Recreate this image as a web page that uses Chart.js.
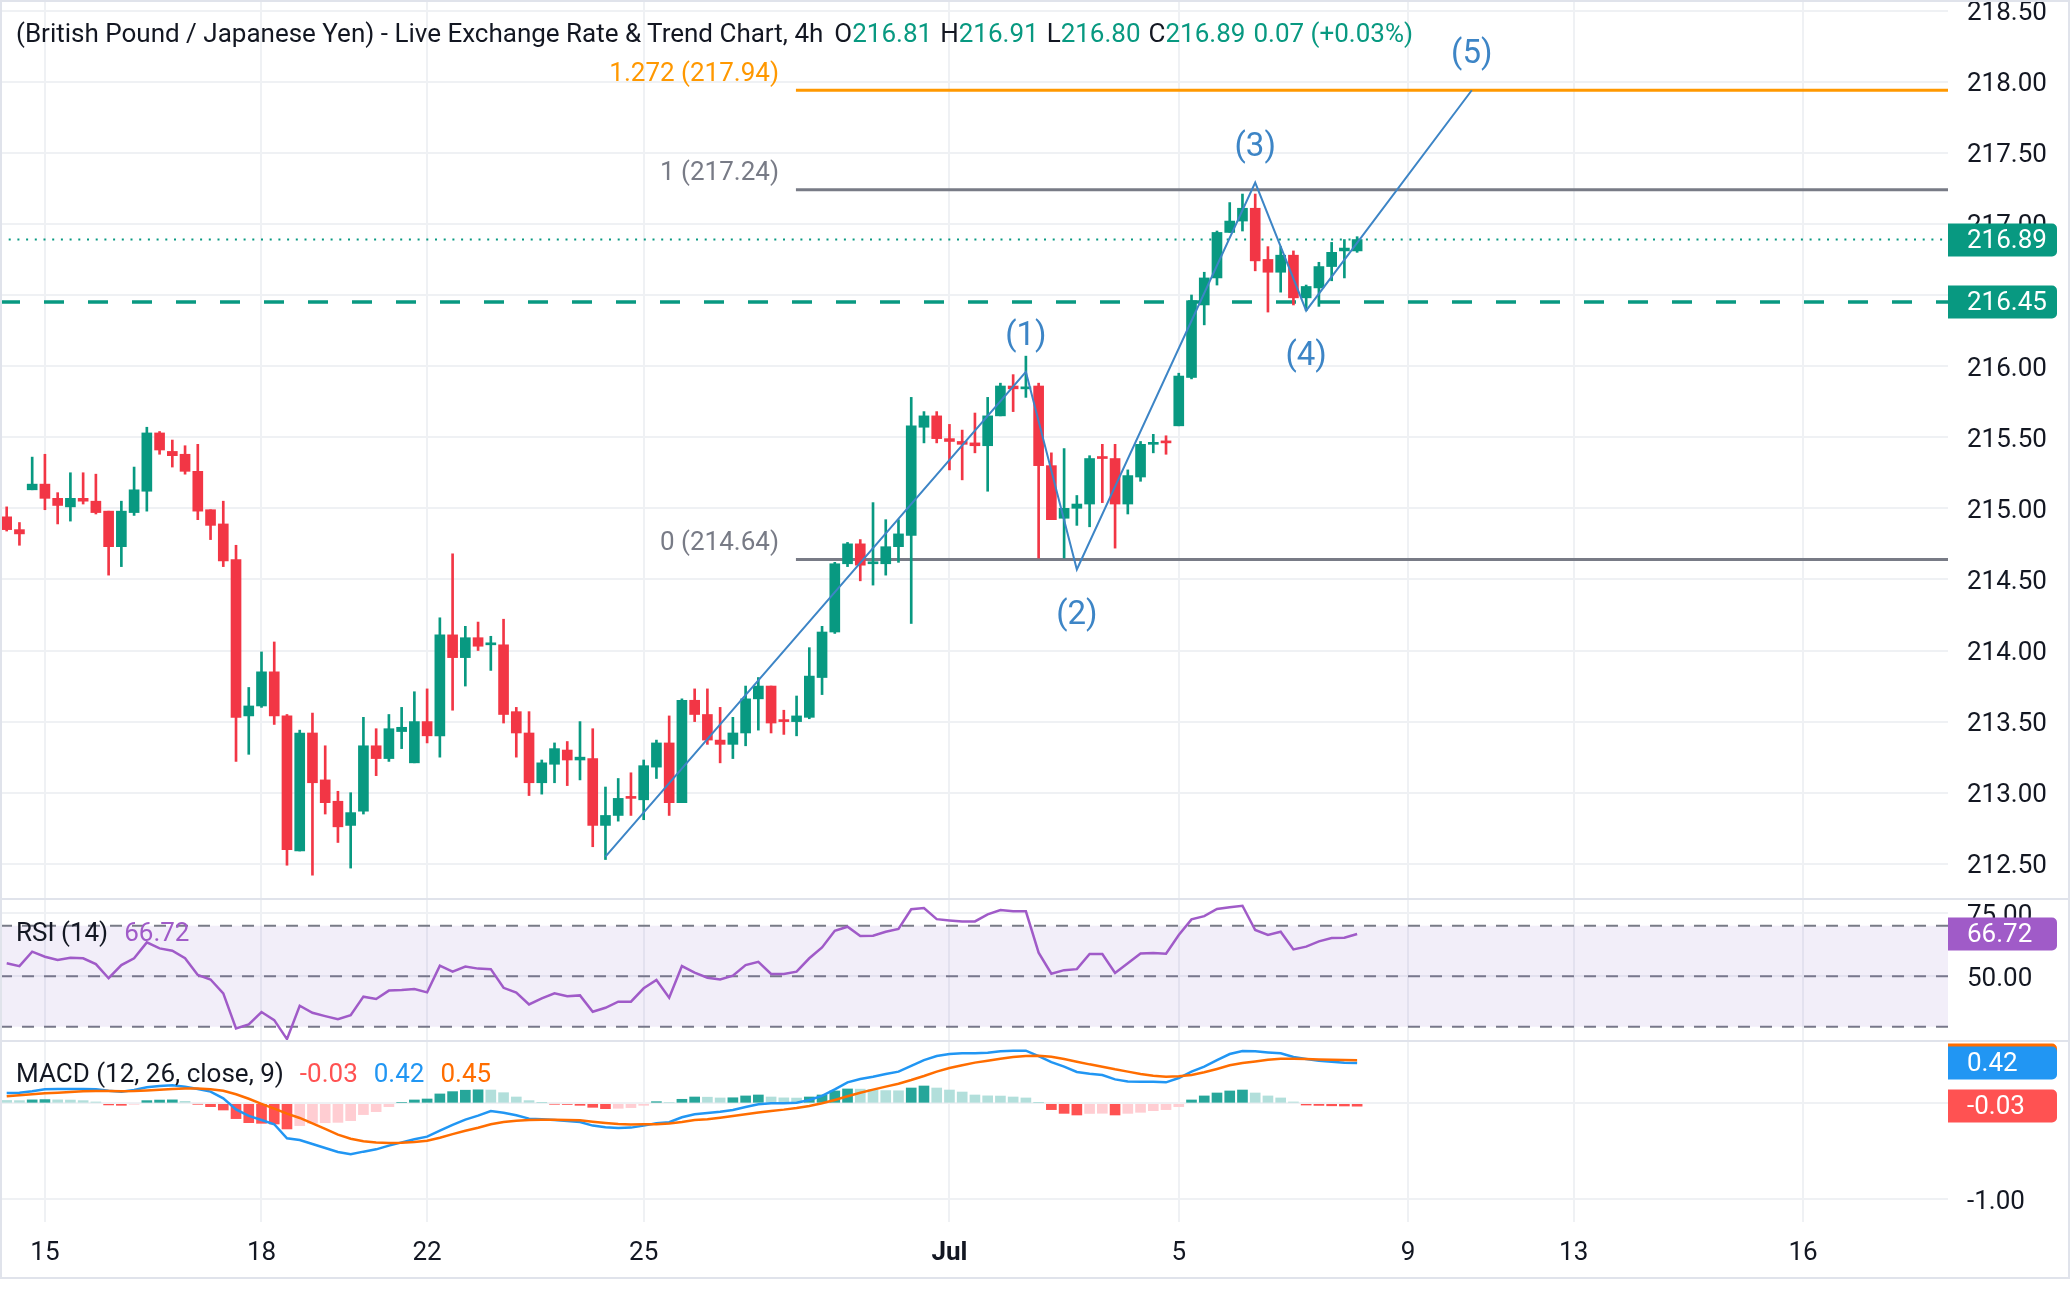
<!DOCTYPE html>
<html>
<head>
<meta charset="utf-8">
<title>GBP/JPY 4h</title>
<script src="https://cdn.jsdelivr.net/npm/chart.js@4.4.1/dist/chart.umd.min.js"></script>
<style>
  html, body { margin: 0; padding: 0; background: #fff; }
  body { width: 2070px; height: 1298px; position: relative; overflow: hidden;
         font-family: Roboto, "Noto Sans", sans-serif; color: #131722; }
  canvas { position: absolute; left: 0; }
  .line { position: absolute; left: 0; width: 2070px; height: 2px; background: #e0e3eb; }
  .frame { position: absolute; left: 0; top: 0; width: 2066px; height: 1275px; border: 2px solid #e0e3eb; }
  .legend { position: absolute; left: 16px; font-size: 26px; line-height: 34px; white-space: nowrap; }
  .legend span { margin-left: 8px; }
  .g { color: #089981; }
</style>
</head>
<body>
<canvas id="price" width="2070" height="899" style="top:0"></canvas>
<canvas id="rsi" width="2070" height="142" style="top:899px"></canvas>
<canvas id="macd" width="2070" height="257" style="top:1041px"></canvas>
<div class="line" style="top:898px"></div>
<div class="line" style="top:1040px"></div>
<div class="frame"></div>

<div class="legend" style="top:16px">(British Pound / Japanese Yen) - Live Exchange Rate &amp; Trend Chart, 4h<span style="margin-left:11px">O</span><span class="g" style="margin-left:0">216.81</span><span>H</span><span class="g" style="margin-left:0">216.91</span><span>L</span><span class="g" style="margin-left:0">216.80</span><span>C</span><span class="g" style="margin-left:0">216.89</span><span class="g">0.07 (+0.03%)</span></div>
<div class="legend" style="top:915px">RSI (14)<span style="margin-left:16px;color:#a05bc8">66.72</span></div>
<div class="legend" style="top:1056px">MACD (12, 26, close, 9)<span style="margin-left:16px;color:#ff5252">-0.03</span><span style="margin-left:16px;color:#2196f3">0.42</span><span style="margin-left:16px;color:#ff6d00">0.45</span></div>

<script>
// candles, 4h bars (index 0 = leftmost bar on screen)
const opens = [214.94,214.85,215.13,215.17,215.07,215.01,215.07,215.05,214.98,214.73,
  214.97,215.12,215.53,215.40,215.38,215.26,214.99,214.89,214.64,213.54,
  213.61,213.85,213.54,212.59,213.42,213.09,212.94,212.77,212.87,213.33,
  213.24,213.43,213.21,213.50,213.40,214.11,213.95,214.09,214.04,214.04,
  213.57,213.42,213.07,213.20,213.30,213.23,213.24,212.77,212.84,212.97,
  212.95,213.18,213.35,212.93,213.65,213.55,213.37,213.34,213.42,213.66,
  213.75,213.51,213.50,213.53,213.81,214.13,214.61,214.75,214.61,214.61,
  214.73,214.81,215.57,215.65,215.49,215.47,215.46,215.44,215.65,215.86,
  215.84,215.86,215.30,214.93,215.00,215.03,215.36,215.35,215.03,215.22,
  215.45,215.47,215.58,215.92,216.43,216.62,216.94,217.02,217.11,216.75,
  216.66,216.78,216.48,216.55,216.70,216.81,216.81];
const highs = [215.01,214.90,215.36,215.38,215.11,215.25,215.25,215.24,214.98,215.05,
  215.29,215.57,215.54,215.48,215.44,215.45,214.99,215.05,214.74,213.74,
  213.99,214.06,213.55,213.44,213.56,213.33,213.01,213.00,213.53,213.45,
  213.55,213.60,213.71,213.73,214.23,214.68,214.17,214.20,214.10,214.22,
  213.60,213.57,213.23,213.35,213.36,213.50,213.45,213.04,213.10,213.14,
  213.23,213.37,213.54,213.66,213.73,213.73,213.60,213.53,213.75,213.81,
  213.75,213.58,213.68,214.02,214.17,214.62,214.76,214.78,215.04,214.92,
  214.92,215.78,215.68,215.68,215.59,215.55,215.67,215.78,215.88,215.94,
  216.07,215.88,215.39,215.42,215.09,215.37,215.45,215.45,215.27,215.47,
  215.52,215.51,215.95,216.50,216.66,216.95,217.15,217.21,217.21,216.84,
  216.84,216.81,216.57,216.73,216.87,216.89,216.91];
const lows = [214.84,214.74,215.13,214.99,214.89,214.91,215.03,214.96,214.53,214.59,
  214.95,214.98,215.38,215.29,215.24,214.92,214.78,214.59,213.22,213.27,
  213.60,213.48,212.49,212.59,212.42,212.85,212.65,212.47,212.85,213.12,
  213.22,213.31,213.21,213.35,213.25,213.58,213.75,214.00,213.86,213.49,
  213.25,212.98,212.99,213.07,213.05,213.09,212.62,212.53,212.80,212.84,
  212.81,213.10,212.84,212.93,213.50,213.34,213.21,213.24,213.33,213.44,
  213.42,213.41,213.40,213.52,213.69,214.12,214.59,214.49,214.46,214.53,
  214.62,214.19,215.46,215.46,215.27,215.20,215.39,215.12,215.65,215.68,
  215.78,214.65,214.92,214.65,214.88,214.87,215.04,214.72,214.96,215.19,
  215.39,215.38,215.58,215.91,216.29,216.57,216.94,216.95,216.67,216.38,
  216.52,216.43,216.39,216.42,216.60,216.62,216.80];
const closes = [214.85,214.82,215.17,215.07,215.02,215.07,215.05,214.97,214.73,214.98,
  215.13,215.53,215.41,215.37,215.26,214.98,214.88,214.63,213.53,213.61,
  213.85,213.54,212.60,213.42,213.07,212.93,212.76,212.86,213.33,213.24,
  213.45,213.46,213.50,213.40,214.11,213.95,214.09,214.03,214.05,213.55,
  213.42,213.07,213.21,213.31,213.23,213.25,212.77,212.84,212.96,212.96,
  213.19,213.35,212.93,213.65,213.55,213.37,213.34,213.42,213.66,213.75,
  213.49,213.50,213.54,213.82,214.13,214.61,214.75,214.60,214.62,214.73,
  214.82,215.58,215.65,215.49,215.47,215.45,215.44,215.65,215.86,215.84,
  215.85,215.30,214.92,215.00,215.03,215.35,215.35,215.03,215.23,215.45,
  215.46,215.46,215.93,216.46,216.62,216.94,217.02,217.11,216.74,216.66,
  216.78,216.48,216.56,216.70,216.80,216.83,216.89];

// RSI (14)
const rsi = [55.1,54.0,59.7,57.7,56.4,57.3,57.1,54.8,49.2,54.4,
  57.1,63.4,61.0,60.1,57.1,50.5,48.7,43.2,29.3,30.9,
  35.8,32.6,25.1,38.3,35.5,34.2,33.0,34.6,41.9,41.0,
  44.3,44.5,44.9,43.6,54.2,51.8,53.8,53.0,52.8,45.4,
  43.5,38.8,41.2,43.2,42.1,42.4,35.9,37.5,39.9,39.9,
  45.2,48.5,41.5,54.0,51.4,49.4,48.7,50.2,54.4,55.7,
  50.9,50.9,51.8,57.1,61.4,68.0,69.6,65.9,66.0,67.6,
  68.7,76.5,77.0,72.6,72.1,71.7,71.7,74.5,76.2,75.7,
  75.7,59.3,51.0,52.4,52.8,58.8,58.8,51.3,55.1,59.0,
  59.2,58.9,66.3,72.5,73.8,76.6,77.3,77.9,68.3,66.3,
  67.6,60.6,61.7,63.8,65.1,65.2,66.72];

// MACD (12, 26, close, 9)
const macd = [0.108,0.111,0.125,0.146,0.150,0.150,0.150,0.146,0.132,0.122,
  0.139,0.167,0.181,0.188,0.174,0.150,0.122,0.052,-0.063,-0.132,
  -0.174,-0.219,-0.366,-0.383,-0.425,-0.467,-0.509,-0.533,-0.505,-0.481,
  -0.442,-0.408,-0.376,-0.348,-0.286,-0.226,-0.171,-0.129,-0.080,-0.098,
  -0.125,-0.160,-0.167,-0.174,-0.184,-0.195,-0.233,-0.251,-0.258,-0.254,
  -0.233,-0.209,-0.198,-0.146,-0.114,-0.101,-0.087,-0.070,-0.038,-0.010,
  0.000,0.000,0.007,0.035,0.077,0.146,0.219,0.254,0.278,0.306,
  0.331,0.390,0.452,0.494,0.515,0.522,0.522,0.529,0.543,0.550,
  0.550,0.494,0.431,0.383,0.327,0.310,0.296,0.250,0.229,0.226,
  0.226,0.219,0.264,0.331,0.383,0.452,0.515,0.546,0.543,0.532,
  0.522,0.484,0.463,0.445,0.435,0.425,0.42];
const signal = [0.073,0.083,0.094,0.104,0.111,0.118,0.125,0.129,0.128,0.126,
  0.129,0.135,0.142,0.150,0.155,0.154,0.148,0.132,0.094,0.048,
  -0.005,-0.055,-0.108,-0.153,-0.209,-0.268,-0.327,-0.370,-0.397,-0.410,
  -0.414,-0.411,-0.403,-0.390,-0.360,-0.322,-0.287,-0.255,-0.219,-0.196,
  -0.182,-0.175,-0.172,-0.172,-0.174,-0.178,-0.192,-0.205,-0.216,-0.221,
  -0.220,-0.218,-0.212,-0.195,-0.174,-0.167,-0.150,-0.132,-0.115,-0.097,
  -0.080,-0.066,-0.049,-0.028,0.000,0.035,0.073,0.111,0.143,0.174,
  0.205,0.243,0.285,0.331,0.369,0.397,0.425,0.445,0.466,0.484,
  0.494,0.497,0.487,0.463,0.435,0.407,0.383,0.355,0.331,0.306,
  0.289,0.278,0.282,0.296,0.324,0.359,0.397,0.421,0.438,0.456,
  0.466,0.466,0.463,0.459,0.456,0.452,0.45];
const hist = [0.030,0.028,0.036,0.039,0.036,0.034,0.028,0.014,-0.017,-0.021,
  -0.010,0.028,0.034,0.036,0.021,-0.010,-0.035,-0.070,-0.160,-0.202,
  -0.209,-0.216,-0.268,-0.233,-0.209,-0.203,-0.199,-0.181,-0.118,-0.087,
  -0.035,0.010,0.035,0.045,0.098,0.122,0.137,0.141,0.139,0.111,
  0.066,0.028,0.007,-0.010,-0.012,-0.021,-0.042,-0.056,-0.052,-0.045,
  -0.021,0.017,0.010,0.042,0.066,0.064,0.056,0.058,0.077,0.087,
  0.066,0.057,0.055,0.066,0.087,0.129,0.150,0.148,0.143,0.133,
  0.131,0.160,0.181,0.160,0.139,0.118,0.087,0.078,0.076,0.066,
  0.056,0.007,-0.066,-0.105,-0.122,-0.106,-0.104,-0.122,-0.105,-0.094,
  -0.077,-0.066,-0.035,0.035,0.077,0.108,0.129,0.139,0.108,0.077,
  0.056,0.014,-0.018,-0.022,-0.026,-0.028,-0.03];

// time axis: bar index of each date label
const tickBars = [3, 20, 33, 50, 74, 92, 110, 123, 141];
const tickNames = ['15', '18', '22', '25', 'Jul', '5', '9', '13', '16'];

const priceTicks = [212.5, 213, 213.5, 214, 214.5, 215, 215.5, 216, 216.5, 217, 217.5, 218, 218.5];
const hiddenPriceLabels = [216.5]; // sits under the 216.45 tag
const rsiTicks = [50, 75];
const macdTicks = [-1, 0];

// drawn levels
const fibRatios = ['1.272', '1', '0'];
const fibLevels = [217.94, 217.24, 214.64];
const fibStartBar = 61.95;
const supportLevel = 216.45;

// elliott wave count
const waveX = [47, 80, 84, 98, 102, 115];
const waveY = [212.55, 215.96, 214.57, 217.29, 216.39, 217.94];
const waveLabels = ['', '(1)', '(2)', '(3)', '(4)', '(5)'];

// ---- styling ----
const FONT = 'Roboto, "Noto Sans", sans-serif';
const TEXT = '#131722';
const GRID = '#eff1f4';
const UP = '#089981';
const DOWN = '#f23645';
const WAVE = '#3d85c6';
const PURPLE = '#a05bc8';
const xMin = -0.526, xMax = 152.38;
const last = closes.length - 1;
const bars = closes.map((_, i) => i);

Chart.defaults.font.family = FONT;

const candleColors = bars.map(i => closes[i] >= opens[i] ? UP : DOWN);
const histColors = hist.map((v, i) => {
  const prev = i > 0 ? hist[i - 1] : v;
  if (v >= 0) return v > prev ? '#26a69a' : '#b2dfdb';
  return v < prev ? '#ff5252' : '#ffcdd2';
});

function timeAxis(showLabels) {
  return {
    type: 'linear', min: xMin, max: xMax, offset: false,
    afterBuildTicks: s => { s.ticks = tickBars.map(v => ({ value: v })); },
    afterFit: s => { s.height = showLabels ? 76 : 0; s.paddingLeft = 0; s.paddingRight = 0; },
    grid: { color: GRID, lineWidth: 2, drawTicks: false, offset: false },
    border: { display: false },
    ticks: {
      display: showLabels, autoSkip: false, maxRotation: 0, padding: 16, color: TEXT,
      font: ctx => ({ family: FONT, size: 26,
        weight: ctx.tick && tickNames[tickBars.indexOf(ctx.tick.value)] === 'Jul' ? 'bold' : 'normal' }),
      callback: v => tickNames[tickBars.indexOf(v)]
    }
  };
}

function valueAxis(min, max, values, hidden) {
  return {
    type: 'linear', position: 'right', min, max,
    afterBuildTicks: s => { s.ticks = values.map(v => ({ value: v })); },
    afterFit: s => { s.width = 122; s.paddingTop = 0; s.paddingBottom = 0; },
    grid: { color: GRID, lineWidth: 2, drawTicks: false, offset: false },
    border: { display: false },
    ticks: { color: TEXT, font: { family: FONT, size: 26 }, padding: 19, labelOffset: 3,
      callback: v => (hidden || []).includes(v) ? '' : v.toFixed(2) }
  };
}

function hLine(y, x0, color, width, dash, extra) {
  return Object.assign({
    type: 'line', data: [{ x: x0, y }, { x: xMax, y }],
    borderColor: color, borderWidth: width, borderDash: dash || [],
    pointRadius: 0, order: 5
  }, extra || {});
}

// coloured value tags on the right scale
function valueBoxes(items) {
  return {
    id: 'valueBoxes',
    afterDraw(chart) {
      const { ctx, chartArea, scales: { y } } = chart;
      ctx.save();
      ctx.font = `26px ${FONT}`;
      ctx.textBaseline = 'middle';
      ctx.textAlign = 'left';
      items.forEach(b => {
        const py = Math.round(y.getPixelForValue(b.value));
        ctx.fillStyle = b.color;
        ctx.beginPath();
        ctx.roundRect(chartArea.right, py - 16.5, 109, 33, [0, 5, 5, 0]);
        ctx.fill();
        ctx.fillStyle = '#fff';
        ctx.fillText(b.text, chartArea.right + 19, py + 1);
      });
      ctx.restore();
    }
  };
}

const priceLabels = {
  id: 'priceLabels',
  afterDatasetsDraw(chart) {
    const { ctx, scales: { x, y } } = chart;
    ctx.save();
    ctx.font = `26px ${FONT}`;
    ctx.textAlign = 'right';
    ctx.textBaseline = 'middle';
    fibLevels.forEach((lvl, i) => {
      ctx.fillStyle = i === 0 ? '#ff9800' : '#787b86';
      ctx.fillText(`${fibRatios[i]} (${lvl.toFixed(2)})`, x.getPixelForValue(fibStartBar) - 17, y.getPixelForValue(lvl) - 16);
    });
    ctx.font = `33px ${FONT}`;
    ctx.textAlign = 'center';
    ctx.fillStyle = WAVE;
    waveLabels.forEach((t, i) => {
      if (!t) return;
      const dy = i % 2 ? -35 : 46;
      ctx.fillText(t, x.getPixelForValue(waveX[i]), y.getPixelForValue(waveY[i]) + dy);
    });
    ctx.restore();
  }
};

const common = {
  responsive: false, animation: false, devicePixelRatio: 1,
  layout: { padding: 0 },
  plugins: { legend: { display: false }, tooltip: { enabled: false } }
};

// price pane
new Chart(document.getElementById('price'), {
  type: 'bar',
  data: {
    datasets: [
      { type: 'line', data: waveX.map((x, i) => ({ x, y: waveY[i] })), borderColor: WAVE,
        borderWidth: 2, pointRadius: 0, tension: 0, order: 0 },
      { data: bars.map(i => ({ x: i, y: [opens[i], closes[i]] })), backgroundColor: candleColors,
        barThickness: 10, grouped: false, minBarLength: 2, order: 1 },
      { data: bars.map(i => ({ x: i, y: [lows[i], highs[i]] })), backgroundColor: candleColors,
        barThickness: 2, grouped: false, order: 2 },
      hLine(closes[last], xMin, UP, 2, [2, 6.7]),
      hLine(supportLevel, xMin, UP, 3.5, [20, 24]),
      hLine(fibLevels[0], fibStartBar, '#ff9800', 3),
      hLine(fibLevels[1], fibStartBar, '#787b86', 3),
      hLine(fibLevels[2], fibStartBar, '#787b86', 3)
    ]
  },
  options: Object.assign({}, common, {
    scales: { x: timeAxis(false), y: valueAxis(212.2525, 218.5745, priceTicks, hiddenPriceLabels) }
  }),
  plugins: [priceLabels, valueBoxes([
    { value: supportLevel, text: supportLevel.toFixed(2), color: UP },
    { value: closes[last], text: closes[last].toFixed(2), color: UP }
  ])]
});

// RSI pane
new Chart(document.getElementById('rsi'), {
  type: 'line',
  data: {
    datasets: [
      { data: bars.map(i => ({ x: i, y: rsi[i] })), borderColor: PURPLE, borderWidth: 2.5,
        pointRadius: 0, order: 0 },
      hLine(70, xMin, '#787b86', 2, [12, 10], { fill: '+1', backgroundColor: 'rgba(126,87,194,0.1)' }),
      hLine(30, xMin, '#787b86', 2, [12, 10]),
      hLine(50, xMin, '#787b86', 2, [12, 10])
    ]
  },
  options: Object.assign({}, common, {
    scales: { x: timeAxis(false), y: valueAxis(24.34, 80.57, rsiTicks) }
  }),
  plugins: [valueBoxes([{ value: rsi[last], text: rsi[last].toFixed(2), color: PURPLE }])]
});

// MACD pane with the time axis
new Chart(document.getElementById('macd'), {
  type: 'bar',
  data: {
    datasets: [
      { type: 'line', data: bars.map(i => ({ x: i, y: signal[i] })), borderColor: '#ff6d00',
        borderWidth: 2.5, pointRadius: 0, order: 0 },
      { type: 'line', data: bars.map(i => ({ x: i, y: macd[i] })), borderColor: '#2196f3',
        borderWidth: 2.5, pointRadius: 0, order: 1 },
      { data: bars.map(i => ({ x: i, y: hist[i] })), backgroundColor: histColors,
        barThickness: 10, grouped: false, order: 2 }
    ]
  },
  options: Object.assign({}, common, {
    scales: { x: timeAxis(true), y: valueAxis(-1.240, 0.651, macdTicks) }
  }),
  plugins: [valueBoxes([
    { value: signal[last], text: signal[last].toFixed(2), color: '#ff6d00' },
    { value: macd[last], text: macd[last].toFixed(2), color: '#2196f3' },
    { value: hist[last], text: hist[last].toFixed(2), color: '#ff5252' }
  ])]
});
</script>
</body>
</html>
